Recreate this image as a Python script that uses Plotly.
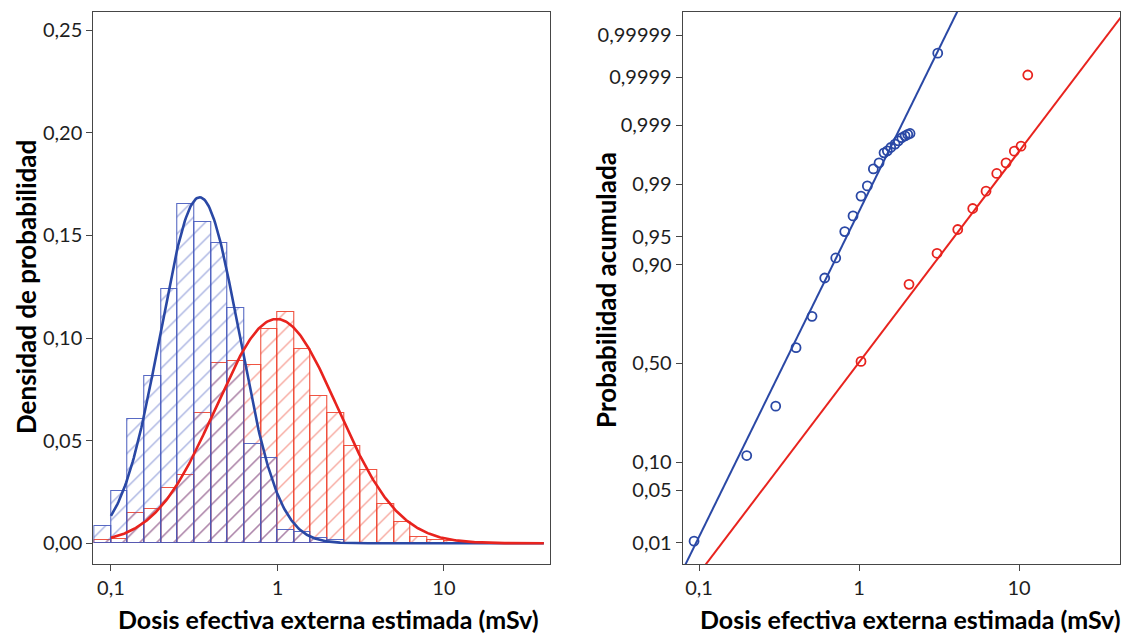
import numpy as np
import plotly.graph_objects as go
from statistics import NormalDist

nd = NormalDist()

# ---------------- data ----------------
# Histogram: bins of equal width in log10(dose), starting at log10 = -1.1
bin_start_log10 = -1.1
bin_width_log10 = 0.1
hist_blue = [0.0084, 0.0255, 0.0606, 0.0814, 0.1238, 0.1655, 0.1566, 0.1465,
             0.1147, 0.0486, 0.0418, 0.0067, 0.0056, 0.0028, 0.0018]
hist_red = [0.0015, 0.0023, 0.0148, 0.0166, 0.0267, 0.0335, 0.0637, 0.0877,
            0.0887, 0.0869, 0.1046, 0.1126, 0.0949, 0.0718, 0.0637, 0.0474,
            0.0356, 0.0190, 0.0104, 0.0031, 0.0018, 0.0010, 0.0003]

blue_mu, blue_sigma = -0.467, 0.2366
red_mu, red_sigma = -0.005, 0.365
curve_log10_range = [-1.0, 1.6]

# Probability plot points: dose (mSv) and cumulative probability
blue_dose = [0.0931, 0.1987, 0.3015, 0.4040, 0.5084, 0.6103, 0.7152, 0.8141,
             0.9173, 1.029, 1.127, 1.229, 1.334, 1.433, 1.503, 1.578, 1.679,
             1.760, 1.849, 1.939, 2.016, 2.084, 3.104]
blue_prob = [0.0105, 0.1158, 0.2894, 0.581, 0.7295, 0.8663, 0.9146, 0.9566,
             0.9723, 0.9851, 0.98943, 0.99424, 0.9954, 0.99688, 0.99712,
             0.99748, 0.9978, 0.99808, 0.99831, 0.99844, 0.99853, 0.99859,
             0.999972]
red_dose = [1.029, 2.053, 3.073, 4.140, 5.135, 6.220, 7.255, 8.293, 9.346,
            10.29, 11.34]
red_prob = [0.5104, 0.8478, 0.9237, 0.959, 0.9779, 0.98735, 0.99319, 0.99540,
            0.99708, 0.99761, 0.99991]

x_tick_vals = [0.1, 1, 10]
x_tick_text = ["0,1", "1", "10"]
dens_ticks = [0.00, 0.05, 0.10, 0.15, 0.20, 0.25]
prob_ticks = [0.01, 0.05, 0.10, 0.50, 0.90, 0.95, 0.99, 0.999, 0.9999, 0.99999]
prob_tick_text = ["0,01", "0,05", "0,10", "0,50", "0,90", "0,95", "0,99",
                  "0,999", "0,9999", "0,99999"]

x_title = "Dosis efectiva externa estimada (mSv)"
y_title_left = "Densidad de probabilidad"
y_title_right = "Probabilidad acumulada"

# ---------------- styling ----------------
BLUE = "rgb(42,72,165)"
RED = "rgb(232,35,30)"
BLUE_BAR = "rgba(70,90,190,0.9)"
RED_BAR = "rgba(238,65,45,0.9)"
AXIS = "rgb(70,70,70)"
FONT = "Lato"

fig = go.Figure()

def bar_trace(vals, col, name):
    centers = [bin_start_log10 + (i + 0.5) * bin_width_log10 for i in range(len(vals))]
    return go.Bar(
        x=centers, y=vals, width=bin_width_log10, name=name,
        marker=dict(color="rgba(255,255,255,0)",
                    line=dict(color=col, width=1.1),
                    pattern=dict(shape="/", fgcolor=col, bgcolor="rgba(255,255,255,0)",
                                 size=12, solidity=0.12, fillmode="overlay")),
        xaxis="x", yaxis="y", showlegend=False)

fig.add_trace(bar_trace(hist_red, RED_BAR, "red"))
fig.add_trace(bar_trace(hist_blue, BLUE_BAR, "blue"))

grid = np.linspace(curve_log10_range[0], curve_log10_range[1], 400)
for mu, sg, col in [(blue_mu, blue_sigma, BLUE), (red_mu, red_sigma, RED)]:
    dens = [bin_width_log10 * NormalDist(mu, sg).pdf(g) for g in grid]
    fig.add_trace(go.Scatter(x=grid, y=dens, mode="lines",
                             line=dict(color=col, width=2.6),
                             xaxis="x", yaxis="y", showlegend=False))

# right panel: fitted lines
z_line = [-2.9, 4.9]
for mu, sg, col in [(blue_mu, blue_sigma, BLUE), (red_mu, red_sigma, RED)]:
    fig.add_trace(go.Scatter(x=[10 ** (mu + sg * z) for z in z_line], y=z_line,
                             mode="lines", line=dict(color=col, width=2),
                             xaxis="x2", yaxis="y2", showlegend=False))

for dose, prob, col in [(blue_dose, blue_prob, BLUE), (red_dose, red_prob, RED)]:
    fig.add_trace(go.Scatter(x=dose, y=[nd.inv_cdf(p) for p in prob], mode="markers",
                             marker=dict(symbol="circle-open", size=9, color=col,
                                         line=dict(width=1.8, color=col)),
                             xaxis="x2", yaxis="y2", showlegend=False))

W, H = 1129, 635
def fx(px):
    return px / W
def fy(py):
    return 1 - py / H

axis_common = dict(showline=True, linecolor=AXIS, linewidth=1, mirror=True,
                   ticks="outside", ticklen=6, tickcolor=AXIS, tickwidth=1,
                   showgrid=False, zeroline=False, automargin=False,
                   tickfont=dict(family=FONT, size=20, color="rgb(30,30,30)"))

fig.update_layout(
    width=W, height=H, margin=dict(l=0, r=0, t=0, b=0),
    paper_bgcolor="white", plot_bgcolor="white", separators=",.",
    barmode="overlay", bargap=0,
    xaxis=dict(domain=[fx(93.3), fx(550)], range=[-1.106, 1.637],
               tickvals=[np.log10(v) for v in x_tick_vals], ticktext=x_tick_text,
               anchor="y", **axis_common),
    yaxis=dict(domain=[fy(564), fy(12)], range=[-0.0101, 0.2589],
               tickvals=dens_ticks, tickformat=".2f", anchor="x", **axis_common),
    xaxis2=dict(domain=[fx(682.7), fx(1120)], type="log", range=[-1.102, 1.631],
                tickvals=x_tick_vals, ticktext=x_tick_text, anchor="y2",
                **axis_common),
    yaxis2=dict(domain=[fy(564), fy(12)], range=[-2.605, 4.564],
                tickvals=[nd.inv_cdf(p) for p in prob_ticks], ticktext=prob_tick_text,
                anchor="x2", **axis_common),
)

xt_font = dict(family=FONT, size=25, color="black")
yt_font = dict(family=FONT, size=26, color="black")
fig.add_annotation(text="<b>" + x_title + "</b>", x=fx(328), y=fy(619), xref="paper",
                   yref="paper", showarrow=False, font=xt_font,
                   xanchor="center", yanchor="middle")
fig.add_annotation(text="<b>" + x_title + "</b>", x=fx(910), y=fy(619), xref="paper",
                   yref="paper", showarrow=False, font=xt_font,
                   xanchor="center", yanchor="middle")
fig.add_annotation(text="<b>" + y_title_left + "</b>", x=fx(26), y=fy(287), xref="paper",
                   yref="paper", showarrow=False, font=yt_font, textangle=-90,
                   xanchor="center", yanchor="middle")
fig.add_annotation(text="<b>" + y_title_right + "</b>", x=fx(606), y=fy(290), xref="paper",
                   yref="paper", showarrow=False, font=yt_font, textangle=-90,
                   xanchor="center", yanchor="middle")

fig.write_html("out.html", config={"displayModeBar": False},
               post_script="document.body.style.margin='0';"
                           "document.body.style.overflow='hidden';")
